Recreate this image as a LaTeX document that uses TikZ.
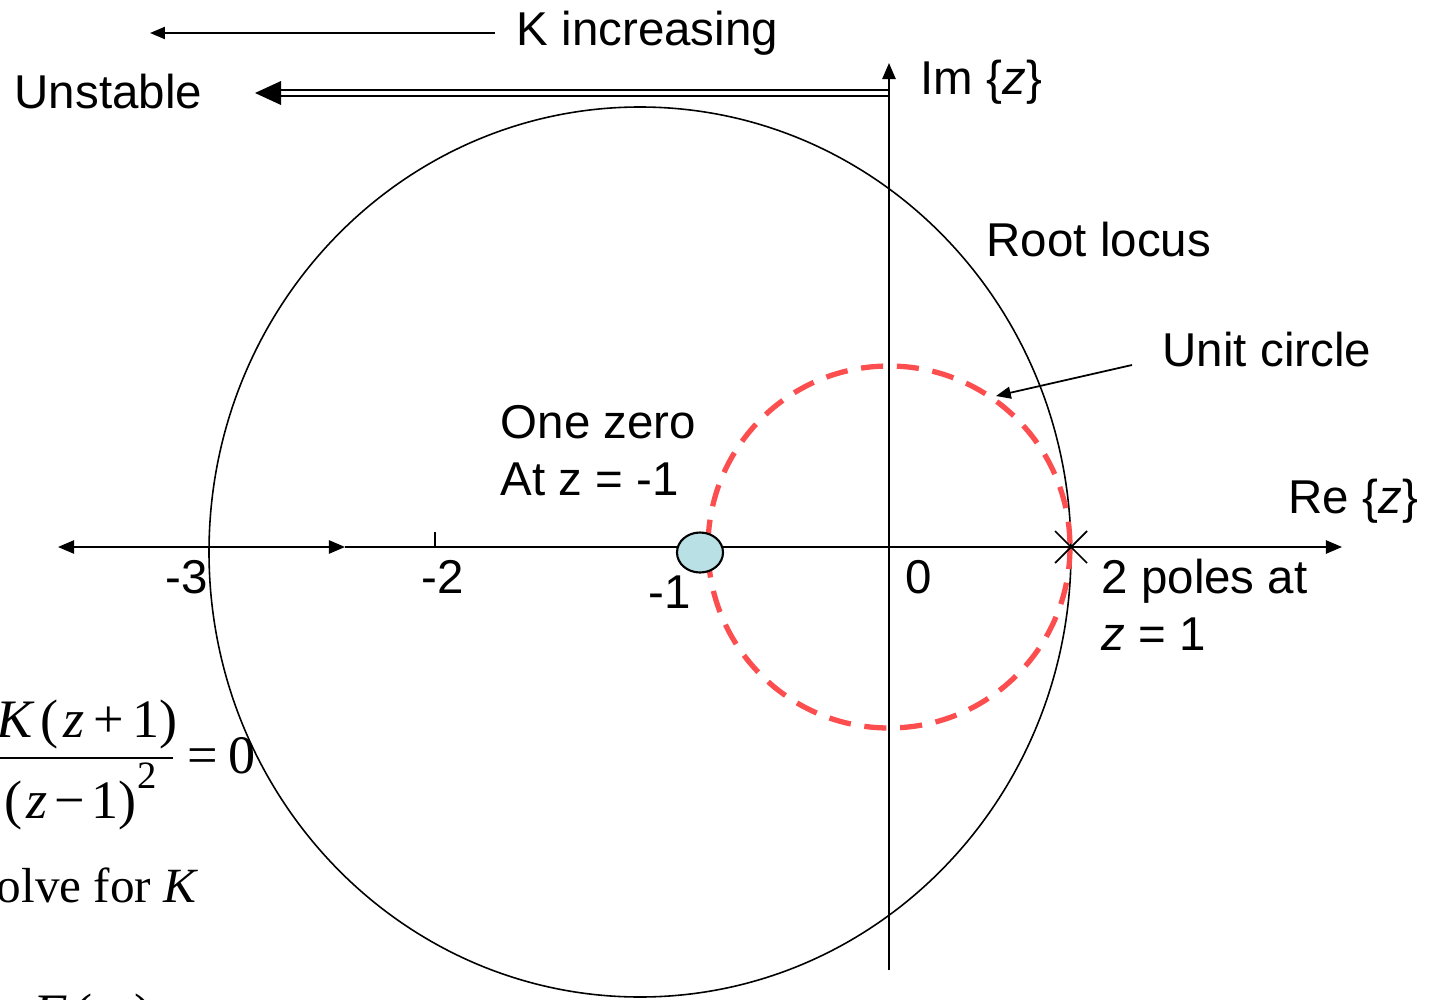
\documentclass[tikz,border=0pt]{standalone}
\usepackage{fontspec}
\setmainfont{Liberation Sans}
\newfontfamily\tms{Liberation Serif}
\usetikzlibrary{arrows.meta,shapes.geometric}
\definecolor{locred}{RGB}{252,78,78}
\definecolor{zerofill}{RGB}{185,224,228}
\begin{document}
\begin{tikzpicture}[x=0.01cm,y=-0.01cm,
  lbl/.style={inner sep=0pt, anchor=base west, font=\fontsize{13.5}{16}\selectfont},
  eqn/.style={inner sep=0pt, anchor=base west, font=\tms\fontsize{15.4}{18}\selectfont},
  axis/.style={line width=0.5pt},
  tip/.style={-{Triangle[length=4.6pt,width=3.8pt]}},
  thin arrow/.style={line width=0.5pt,-{Triangle[length=4.2pt,width=3.4pt]}}]
\useasboundingbox (0,0) rectangle (1433,1000);

% coordinates
\coordinate (realL) at (58,547);
\coordinate (realM) at (345,547);
\coordinate (realR) at (1342,547);
\coordinate (imB) at (889,970);
\coordinate (imT) at (889,63);

% big root-locus circle
\draw[line width=0.45pt] (640,552) ellipse [x radius=431, y radius=445];

% unit circle
\draw[locred, line width=1.5pt, dash pattern=on 6.3pt off 3.9pt] (889,547) circle [radius=181];

% axes
\draw[axis, tip] (realM) -- (realR);
\draw[axis, {Triangle[length=4.6pt,width=3.8pt]}-{Triangle[length=4.6pt,width=3.8pt]}] (realL) -- (realM);
\draw[axis, tip] (imB) -- (imT);
\draw[axis] (435,547) -- (435,532);

% zero
\node[draw, line width=0.6pt, fill=zerofill, ellipse, inner sep=0pt, minimum width=0.46cm, minimum height=0.40cm] (zero) at (700,552.5) {};
% pole
\coordinate (pole) at (1071,547);
\draw[line width=0.5pt] (1055,531) -- (1087,563) (1055,563) -- (1087,531);

% K increasing arrow
\coordinate (kstart) at (495,33);
\coordinate (kend) at (150,33);
\draw[thin arrow] (kstart) -- (kend);

% double unstable arrow
\draw[line width=0.6pt] (889,90.2) -- (275,90.2) (889,95.8) -- (275,95.8);
\fill (255,93) -- (281,81) -- (281,105) -- cycle;

% unit circle pointer
\coordinate (ucs) at (1132,365);
\coordinate (uce) at (996,396);
\draw[thin arrow] (ucs) -- (uce);

% labels
\node[lbl] (kinc) at (516,45) {K increasing};
\node[lbl] (unst) at (14,108) {Unstable};
\node[lbl] (im) at (920,94) {Im \{\textit{z}\}};
\node[lbl] (rl) at (986,256) {Root locus};
\node[lbl] (uc) at (1162,366) {Unit circle};
\node[lbl] (oz) at (500,438) {One zero};
\node[lbl] (atz) at (500,495) {At z = -1};
\node[lbl] (re) at (1288,513) {Re \{\textit{z}\}};
\node[lbl] (tp) at (1101,593) {2 poles at};
\node[lbl] (z1) at (1101,650) {\textit{z} = 1};
\node[lbl] (m3) at (165,593) {-3};
\node[lbl] (m2) at (421,593) {-2};
\node[lbl] (m1) at (648,608) {-1};
\node[lbl] (n0) at (905,593) {0};

% equation
\node[eqn] (num) at (-4,737) {\textit{K}\kern1.5pt(\kern1.5pt\textit{z}\kern2.5pt+\kern2.5pt1)};
\draw[line width=0.6pt] (0,758) -- (173,758);
\node[eqn] (den) at (4,818) {(\kern1pt\textit{z}\kern2pt\char"2212\kern2pt1)\raisebox{0.55em}{\fontsize{11}{12}\selectfont 2}};
\node[eqn] (eq0) at (187,773) {=\kern3pt0};
\node[eqn, font=\tms\fontsize{14}{17}\selectfont] (solve) at (-23,902) {solve for \textit{K}};
\node[eqn] (fz) at (33,1031) {\textit{F}\kern2pt(\kern3pt\textit{z}\kern3pt)};
\end{tikzpicture}
\end{document}
